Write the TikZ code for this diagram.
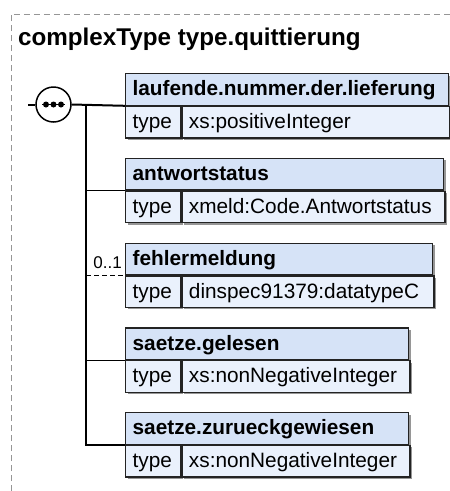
\documentclass[tikz,border=0pt]{standalone}
\usepackage{fontspec}
\setmainfont{Liberation Sans}
\usetikzlibrary{shadows}
\definecolor{namefill}{RGB}{214,227,247}
\definecolor{typefill}{RGB}{234,241,252}
\definecolor{boxline}{RGB}{35,35,35}
\definecolor{shadegray}{RGB}{150,150,150}
\definecolor{framegray}{RGB}{150,150,150}
\begin{document}
\begin{tikzpicture}[
  x=1pt, y=-1pt,
  cell/.style={draw=boxline, line width=1.3pt, anchor=north west, inner xsep=7pt, inner ysep=0pt,
    minimum height=31.5pt, text height=16pt, text depth=3pt, align=left,
    drop shadow={shadow xshift=2pt, shadow yshift=-2pt, fill=shadegray, opacity=1},
    font=\fontsize{20.8}{24}\selectfont},
  elname/.style={cell, fill=namefill, font=\fontsize{20.8}{24}\selectfont\bfseries},
  eltype/.style={cell, fill=typefill},
  trunk/.style={line width=2pt},
  branch/.style={line width=1pt}
]
\useasboundingbox (0,0) rectangle (450,491);
\draw[framegray, line width=0.8pt, dash pattern=on 6pt off 4pt] (11,491) |- (450,14);
\node[anchor=base west, inner sep=0pt, font=\fontsize{24.2}{28}\selectfont\bfseries] (title) at (18,45) {complexType type.quittierung};

% sequence
\node[circle, draw, line width=1.5pt, fill=white, minimum size=35pt, inner sep=0pt] (seq) at (53.5,104.5) {};
\draw[line width=1.3pt] (42,104.5) -- (65,104.5);
\fill (46,104.5) circle (3) (53.5,104.5) circle (3) (61,104.5) circle (3);
\coordinate (in) at (28,104.5);
\coordinate (fork) at (86,104.5);

% elements
\node[elname, text width=309pt] (n1) at (125,73) {laufende.nummer.der.lieferung};
\node[eltype, text width=41pt] (t1) at (n1.south west) {type};
\node[eltype, text width=254pt] (v1) at (t1.north east) {xs:positiveInteger};

\node[elname, text width=304pt] (n2) at (125,157.75) {antwortstatus};
\node[eltype, text width=41pt] (t2) at (n2.south west) {type};
\node[eltype, text width=249pt] (v2) at (t2.north east) {xmeld:Code.Antwortstatus};

\node[elname, text width=293pt] (n3) at (125,242.5) {fehlermeldung};
\node[eltype, text width=41pt] (t3) at (n3.south west) {type};
\node[eltype, text width=238pt] (v3) at (t3.north east) {dinspec91379:datatypeC};

\node[elname, text width=269pt] (n4) at (125,327.25) {saetze.gelesen};
\node[eltype, text width=41pt] (t4) at (n4.south west) {type};
\node[eltype, text width=214pt] (v4) at (t4.north east) {xs:nonNegativeInteger};

\node[elname, text width=269pt] (n5) at (125,412) {saetze.zurueckgewiesen};
\node[eltype, text width=41pt] (t5) at (n5.south west) {type};
\node[eltype, text width=214pt] (v5) at (t5.north east) {xs:nonNegativeInteger};

\node[anchor=base east, inner sep=0pt, font=\fontsize{17}{19}\selectfont] (card3) at (122,268) {0..1};

% connectors
\draw[trunk] (in) -- (seq.west);
\draw[trunk] (seq.east) -- (n1.south west);
\draw[trunk] (fork) |- (n5.south west);
\draw[branch] (fork |- n2.south west) -- (n2.south west);
\draw[branch, dash pattern=on 5pt off 3pt] (fork |- n3.south west) -- (n3.south west);
\draw[branch] (fork |- n4.south west) -- (n4.south west);
\end{tikzpicture}
\end{document}
